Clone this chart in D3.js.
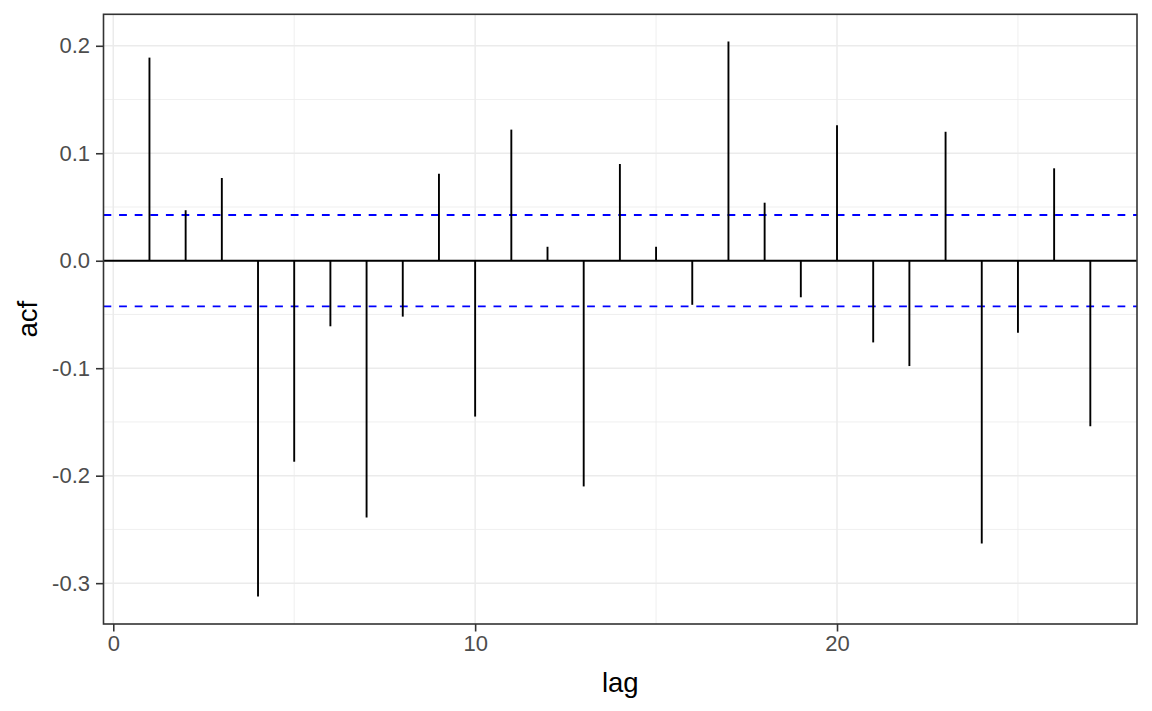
<!DOCTYPE html>
<html>
<head>
<meta charset="utf-8">
<script src="https://cdn.jsdelivr.net/npm/d3@7"></script>
<style>
  html, body { margin: 0; padding: 0; background: #fff; }
  svg { display: block; font-family: "Liberation Sans", Arial, sans-serif; }
</style>
</head>
<body>
<svg id="chart" width="1152" height="711"></svg>
<script>
// ---- data ----
const lags = [1,2,3,4,5,6,7,8,9,10,11,12,13,14,15,16,17,18,19,20,21,22,23,24,25,26,27];
const acfValues = [0.189, 0.047, 0.077, -0.3125, -0.187, -0.061, -0.239, -0.052, 0.081, -0.145,
                   0.122, 0.013, -0.210, 0.090, 0.013, -0.041, 0.204, 0.054, -0.034, 0.126,
                   -0.076, -0.098, 0.120, -0.263, -0.067, 0.086, -0.154];
const ciBound = 0.0425;
const xMajorTicks = [0, 10, 20];
const xMinorTicks = [5, 15, 25];
const yMajorTicks = [-0.3, -0.2, -0.1, 0.0, 0.1, 0.2];
const yMinorTicks = [-0.25, -0.15, -0.05, 0.05, 0.15];
const xLabel = "lag";
const yLabel = "acf";

// ---- layout ----
const svg = d3.select("#chart");
const panel = { left: 103.5, top: 14.3, right: 1137, bottom: 624 };

const x = d3.scaleLinear().domain([-0.27, 28.29]).range([panel.left, panel.right]);
const y = d3.scaleLinear().domain([-0.338, 0.2293]).range([panel.bottom, panel.top]);

const data = lags.map((l, i) => ({ lag: l, acf: acfValues[i] }));

svg.append("rect")
  .attr("x", panel.left).attr("y", panel.top)
  .attr("width", panel.right - panel.left).attr("height", panel.bottom - panel.top)
  .attr("fill", "#fff");

const grid = svg.append("g");
grid.selectAll(".xminor").data(xMinorTicks).join("line")
  .attr("x1", d => x(d)).attr("x2", d => x(d))
  .attr("y1", panel.top).attr("y2", panel.bottom)
  .attr("stroke", "#EBEBEB").attr("stroke-width", 0.8);
grid.selectAll(".yminor").data(yMinorTicks).join("line")
  .attr("y1", d => y(d)).attr("y2", d => y(d))
  .attr("x1", panel.left).attr("x2", panel.right)
  .attr("stroke", "#EBEBEB").attr("stroke-width", 0.8);
grid.selectAll(".xmajor").data(xMajorTicks).join("line")
  .attr("x1", d => x(d)).attr("x2", d => x(d))
  .attr("y1", panel.top).attr("y2", panel.bottom)
  .attr("stroke", "#EBEBEB").attr("stroke-width", 1.5);
grid.selectAll(".ymajor").data(yMajorTicks).join("line")
  .attr("y1", d => y(d)).attr("y2", d => y(d))
  .attr("x1", panel.left).attr("x2", panel.right)
  .attr("stroke", "#EBEBEB").attr("stroke-width", 1.5);

// zero line
svg.append("line")
  .attr("x1", panel.left).attr("x2", panel.right)
  .attr("y1", y(0)).attr("y2", y(0))
  .attr("stroke", "#000").attr("stroke-width", 1.9);

// confidence lines
svg.selectAll(".ci").data([ciBound, -ciBound]).join("line")
  .attr("x1", panel.left).attr("x2", panel.right)
  .attr("y1", d => y(d)).attr("y2", d => y(d))
  .attr("stroke", "#0000FF").attr("stroke-width", 1.9)
  .attr("stroke-dasharray", "7.8,7.8");

// stems
svg.selectAll(".stem").data(data).join("line")
  .attr("x1", d => x(d.lag)).attr("x2", d => x(d.lag))
  .attr("y1", y(0)).attr("y2", d => y(d.acf))
  .attr("stroke", "#000").attr("stroke-width", 1.9);

// panel border
svg.append("rect")
  .attr("x", panel.left).attr("y", panel.top)
  .attr("width", panel.right - panel.left).attr("height", panel.bottom - panel.top)
  .attr("fill", "none").attr("stroke", "#333333").attr("stroke-width", 1.6);

// axes
const xAxis = d3.axisBottom(x).tickValues(xMajorTicks).tickFormat(d3.format("d"))
  .tickSizeInner(7.5).tickSizeOuter(0).tickPadding(4);
const gx = svg.append("g").attr("transform", `translate(0,${panel.bottom})`).call(xAxis);
gx.select(".domain").remove();
gx.selectAll(".tick line").attr("stroke", "#333333").attr("stroke-width", 1.6);
gx.selectAll(".tick text").attr("fill", "#4D4D4D").attr("font-size", 22)
  .attr("font-family", "Liberation Sans, Arial, sans-serif");

const yAxis = d3.axisLeft(y).tickValues(yMajorTicks).tickFormat(d3.format(".1f"))
  .tickSizeInner(7.5).tickSizeOuter(0).tickPadding(6);
const gy = svg.append("g").attr("transform", `translate(${panel.left},0)`).call(yAxis);
gy.select(".domain").remove();
gy.selectAll(".tick line").attr("stroke", "#333333").attr("stroke-width", 1.6);
gy.selectAll(".tick text").attr("fill", "#4D4D4D").attr("font-size", 22)
  .attr("font-family", "Liberation Sans, Arial, sans-serif")
  .text(d => d3.format(".1f")(d).replace("−", "-"));

// axis titles
svg.append("text")
  .attr("x", (panel.left + panel.right) / 2).attr("y", 692)
  .attr("text-anchor", "middle").attr("font-size", 27.5).attr("fill", "#000")
  .text(xLabel);
svg.append("text")
  .attr("transform", `translate(37,${(panel.top + panel.bottom) / 2}) rotate(-90)`)
  .attr("text-anchor", "middle").attr("font-size", 27.5).attr("fill", "#000")
  .text(yLabel);
</script>
</body>
</html>
